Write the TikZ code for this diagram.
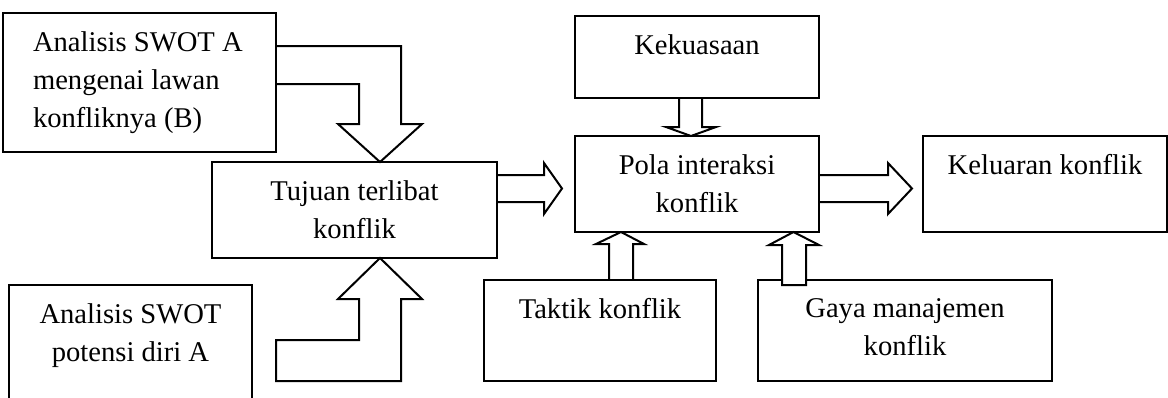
\documentclass[tikz,border=0pt]{standalone}
\usepackage{fontspec}
\setmainfont{Liberation Serif}
\usetikzlibrary{calc, positioning}
\newcommand{\boxfont}{\fontsize{14.3}{19}\selectfont}
\tikzset{
  every picture/.style={line width=1pt},
  box/.style={draw=black, inner sep=0pt, outer sep=0pt, minimum width=#1},
  box/.default=122pt,
  txt/.style={font=\boxfont, align=center, inner sep=0pt, anchor=north},
  blk/.style={draw=black, line join=miter},
}

\begin{document}
\begin{tikzpicture}[x=0.5pt, y=-0.5pt]
  \useasboundingbox (0,0) rectangle (1168,397);
  \node[box=136.5pt, minimum height=69.5pt] (lawan) at (139.5,82.5) {};
  \node[box=142.5pt, minimum height=48pt] (tujuan) at (354.5,210) {};
  \node[box=121.5pt, minimum height=62.5pt] (potensi) at (130.5,347.5) {};
  \node[box, minimum height=41pt] (kuasa) at (697,57) {};
  \node[box, minimum height=48pt] (pola) at (697,184) {};
  \node[box=116pt, minimum height=50.5pt] (taktik) at (600,330.5) {};
  \node[box=147pt, minimum height=50.5pt] (gaya) at (905,330.5) {};
  \node[box, minimum height=48pt] (keluaran) at (1045,184) {};

  \node[txt, align=left, anchor=north west] (lawanT) at ($(lawan.north west)+(29,17.5)$) {Analisis SWOT A\\mengenai lawan\\konfliknya (B)};
  \node[txt] (tujuanT) at ($(tujuan.north)+(0,17.5)$) {Tujuan terlibat\\konflik};
  \node[txt] (potensiT) at ($(potensi.north)+(0,17.5)$) {Analisis SWOT\\potensi diri A};
  \node[txt] (kuasaT) at ($(kuasa.north)+(0,17.5)$) {Kekuasaan};
  \node[txt] (polaT) at ($(pola.north)+(0,17.5)$) {Pola interaksi\\konflik};
  \node[txt] (taktikT) at ($(taktik.north)+(0,17.5)$) {Taktik konflik};
  \node[txt] (gayaT) at ($(gaya.north)+(0,17.5)$) {Gaya manajemen\\konflik};
  \node[txt] (keluaranT) at ($(keluaran.north)+(0,17.5)$) {Keluaran konflik};

  \draw[blk] (lawan.east |- 0,46) -- (401,46) -- (401,124) -- (422,124) -- (380,0 |- tujuan.north)
    -- (338,124) -- (359,124) -- (359,84) -- (lawan.east |- 0,84);
  \draw[blk] (380,0 |- tujuan.south) -- (422,299) -- (401,299) -- (401,381) -- (276,381)
    -- (276,340) -- (359,340) -- (359,299) -- (338,299) -- cycle;
  \draw[blk] (tujuan.east |- 0,175) -- (544,175) -- (544,163) -- (562,188.5) -- (544,214)
    -- (544,202) -- (tujuan.east |- 0,202);
  \draw[blk] (pola.east |- 0,175) -- (888,175) -- (888,163) -- (912,188.5) -- (888,214)
    -- (888,202) -- (pola.east |- 0,202);
  \draw[blk] (679,0 |- kuasa.south) -- (679,127) -- (666,127) -- (691,0 |- pola.north)
    -- (716,127) -- (702,127) -- (702,0 |- kuasa.south);
  \draw[blk] (609,0 |- taktik.north) -- (609,244) -- (596,244) -- (621,0 |- pola.south)
    -- (644,244) -- (633,244) -- (633,0 |- taktik.north);
  \draw[blk, fill=white] (782,285) -- (782,245) -- (769,245) -- (793.5,0 |- pola.south)
    -- (819,245) -- (806,245) -- (806,285) -- cycle;
\end{tikzpicture}
\end{document}
